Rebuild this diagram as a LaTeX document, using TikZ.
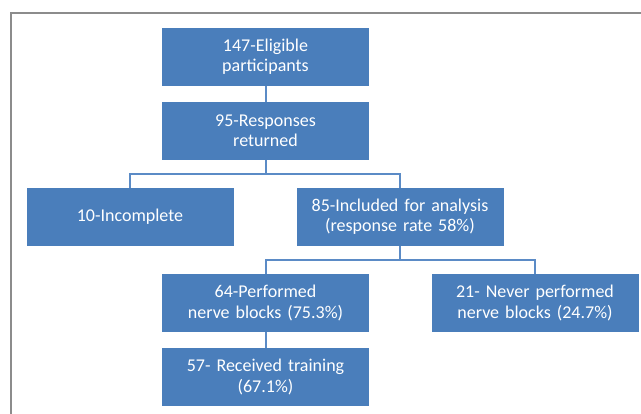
\documentclass[tikz,border=0pt]{standalone}
\usepackage{fontspec}
\setmainfont{Carlito}
\usepackage{tikz}
\usetikzlibrary{positioning}
\definecolor{boxblue}{HTML}{4A7EBB}
\definecolor{lineblue}{HTML}{5B8BC6}
\definecolor{framegray}{HTML}{8C8C8C}

\begin{document}
\begin{tikzpicture}[
    x=1pt, y=-1pt,
    stage/.style={fill=boxblue, text=white, minimum width=207pt, minimum height=58pt,
        inner sep=0pt, align=center, text width=200pt,
        font=\fontsize{18}{22.3}\selectfont},
    conn/.style={draw=lineblue, line width=2pt}
]

\useasboundingbox (0,0) rectangle (641,414);

\draw[framegray, line width=1.3pt] (11,414) -- (11,13) -- (641,13);

\node[stage] (eligible) at (265.5,57) {\raisebox{-2pt}{147-Eligible}\\participants};
\node[stage] (returned) at (265.5,131) {\raisebox{-2pt}{95-Responses}\\returned};
\node[stage] (incomplete) at (130,217) {10-Incomplete\\[22.3pt]};
\node[stage] (included) at (400,217) {\raisebox{-2pt}{85-Included for analysis}\\(response rate 58\%)};
\node[stage] (performed) at (265.5,303) {\raisebox{-2pt}{64-Performed}\\nerve blocks (75.3\%)};
\node[stage] (never) at (535,303) {\raisebox{-2pt}{21- Never performed}\\nerve blocks (24.7\%)};
\node[stage] (training) at (265.5,377) {\raisebox{-2pt}{57- Received training}\\(67.1\%)};

\draw[conn] (eligible) -- (returned);
\draw[conn] (returned.south) -- ++(0,14) coordinate (split1);
\draw[conn] (incomplete.north) |- (split1) -| (included.north);
\draw[conn] (included.south) -- ++(0,14) coordinate (split2);
\draw[conn] (performed.north) |- (split2) -| (never.north);
\draw[conn] (performed) -- (training);

\end{tikzpicture}
\end{document}
